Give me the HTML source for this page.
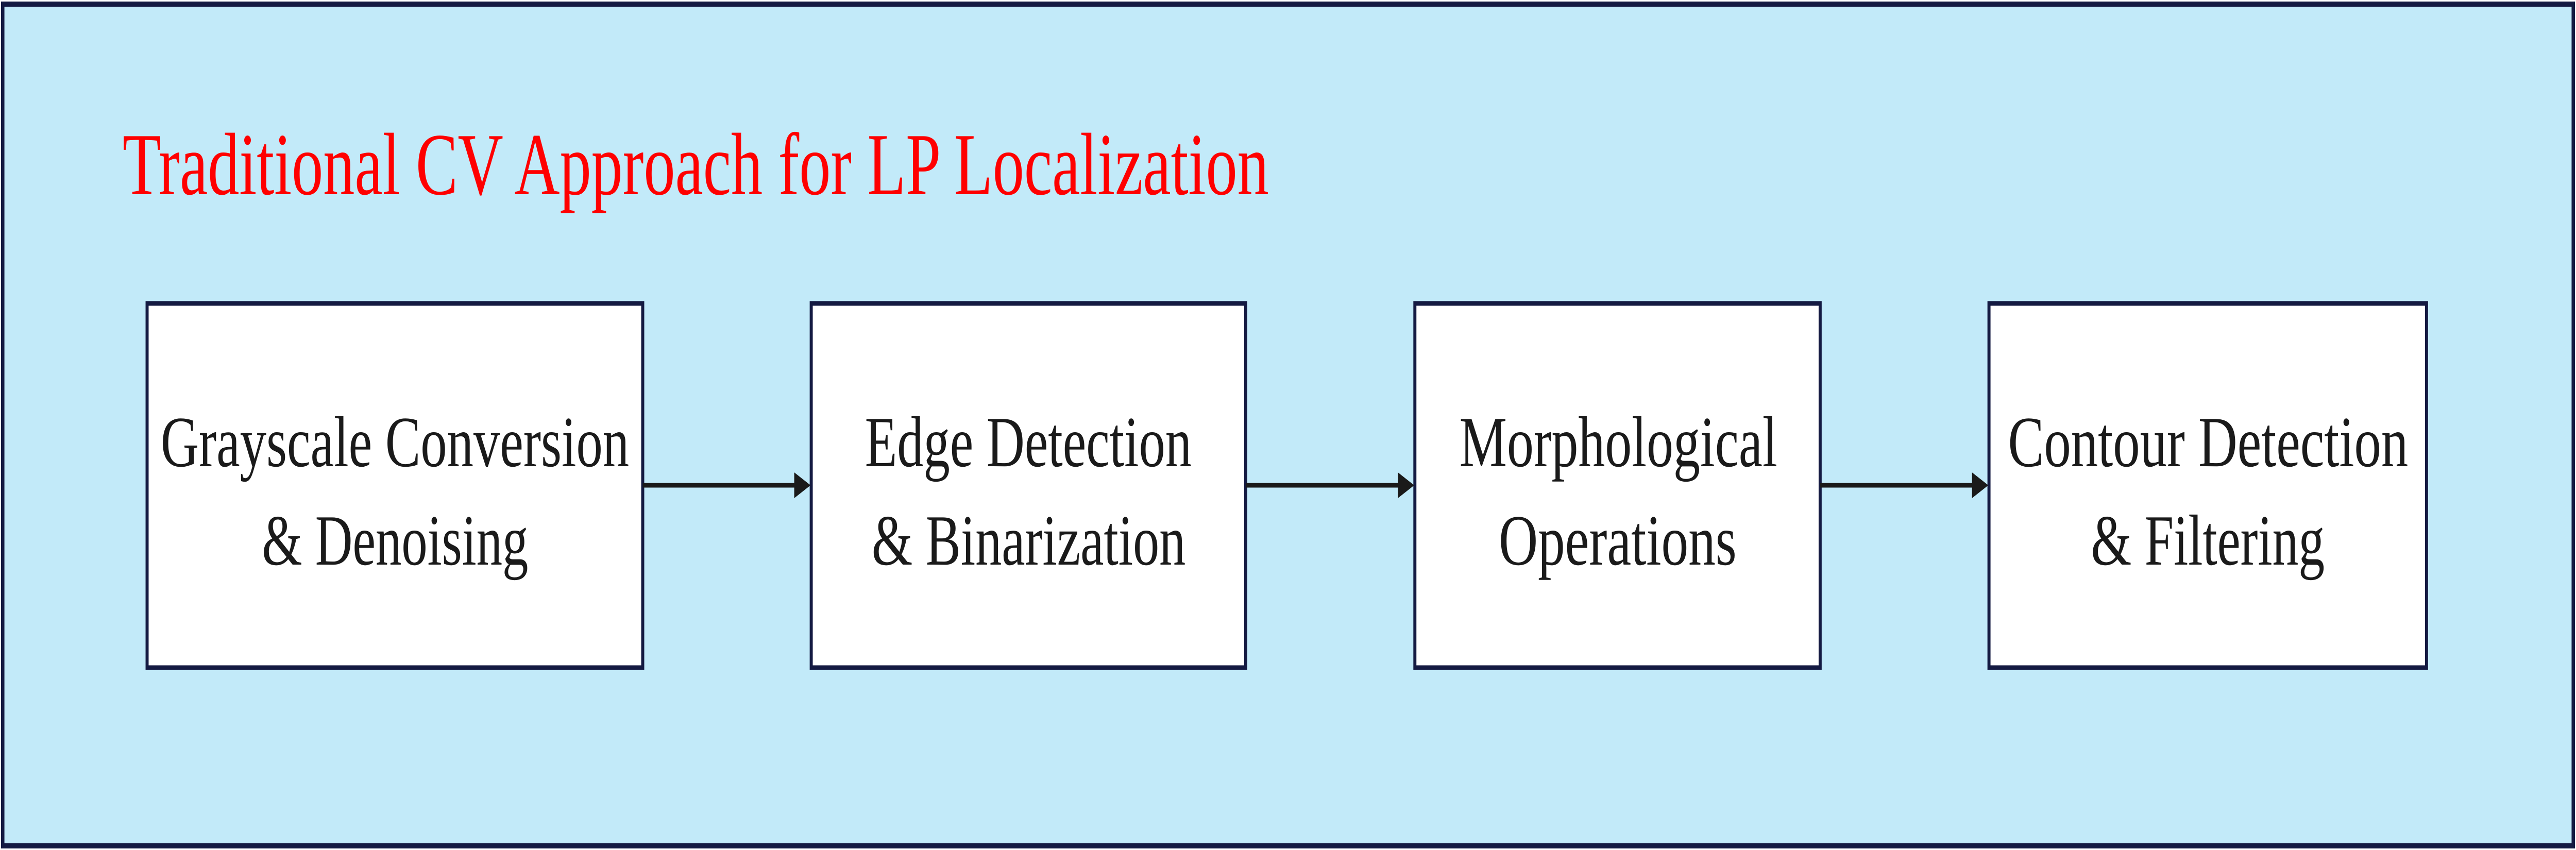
<!DOCTYPE html>
<html><head><meta charset="utf-8"><style>
html,body{margin:0;padding:0;background:#fff;width:100%;height:100%;overflow:hidden;}
svg{display:block;width:100vw;height:100vh;}
text{font-family:"Liberation Serif",serif;}
</style></head><body>
<svg viewBox="0 0 7583 1650" preserveAspectRatio="none" xmlns="http://www.w3.org/2000/svg">
<rect x="8" y="8" width="7567" height="1634" fill="#c2eaf9" stroke="#141a42" stroke-width="10"/>
<text x="361" y="377" font-size="172" fill="#ff0000" textLength="3374" lengthAdjust="spacingAndGlyphs">Traditional CV Approach for LP Localization</text>
<g fill="#ffffff" stroke="#141a42" stroke-width="9">
<rect x="433" y="589" width="1459" height="707"/>
<rect x="2388" y="589" width="1279" height="707"/>
<rect x="4165" y="589" width="1193" height="707"/>
<rect x="5855" y="589" width="1288" height="707"/>
</g>
<g stroke="#1a1a1a" stroke-width="9">
<line x1="1892" y1="942" x2="2345" y2="942"/>
<line x1="3667" y1="942" x2="4120" y2="942"/>
<line x1="5358" y1="942" x2="5810" y2="942"/>
</g>
<g fill="#1a1a1a">
<polygon points="2338,917 2386,942 2338,967"/>
<polygon points="4115,917 4163,942 4115,967"/>
<polygon points="5805,917 5853,942 5805,967"/>
</g>
<g font-size="140" fill="#1a1a1a">
<text x="473" y="905" textLength="1379" lengthAdjust="spacingAndGlyphs">Grayscale Conversion</text>
<text x="771" y="1096" textLength="784" lengthAdjust="spacingAndGlyphs">&amp; Denoising</text>
<text x="2546" y="905" textLength="962" lengthAdjust="spacingAndGlyphs">Edge Detection</text>
<text x="2566" y="1096" textLength="924" lengthAdjust="spacingAndGlyphs">&amp; Binarization</text>
<text x="4296" y="905" textLength="936" lengthAdjust="spacingAndGlyphs">Morphological</text>
<text x="4412" y="1096" textLength="700" lengthAdjust="spacingAndGlyphs">Operations</text>
<text x="5911" y="905" textLength="1178" lengthAdjust="spacingAndGlyphs">Contour Detection</text>
<text x="6155" y="1096" textLength="688" lengthAdjust="spacingAndGlyphs">&amp; Filtering</text>
</g>
</svg>
</body></html>
